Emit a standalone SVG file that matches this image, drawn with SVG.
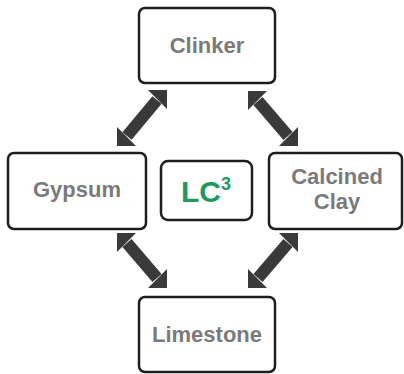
<svg xmlns="http://www.w3.org/2000/svg" width="404" height="374" viewBox="0 0 404 374">
<style>
.box{fill:#fff;stroke:#1e1e1e;stroke-width:2.5}
.lbl{font-family:"Liberation Sans",Arial,sans-serif;font-weight:bold;font-size:22px;fill:#7a7a7a;text-anchor:middle}
.shaft{stroke:#3a3a3a;stroke-width:12;fill:none}
.head{fill:#3a3a3a}
</style>
<rect width="404" height="374" fill="#fff"/>
<g id="connectors">
  <!-- top-left -->
  <line class="shaft" x1="157" y1="100" x2="127" y2="136"/>
  <polygon class="head" points="167,90 148,90 167,109"/>
  <polygon class="head" points="117,146 136,146 117,127"/>
  <!-- top-right -->
  <line class="shaft" x1="258" y1="101" x2="288" y2="136"/>
  <polygon class="head" points="248,91 267,91 248,110"/>
  <polygon class="head" points="298,146 279,146 298,127"/>
  <!-- bottom-left -->
  <line class="shaft" x1="127" y1="243" x2="157" y2="278"/>
  <polygon class="head" points="117,233 136,233 117,252"/>
  <polygon class="head" points="167,288 148,288 167,269"/>
  <!-- bottom-right -->
  <line class="shaft" x1="288" y1="243" x2="258" y2="278"/>
  <polygon class="head" points="298,233 279,233 298,252"/>
  <polygon class="head" points="248,288 267,288 248,269"/>
</g>
<g id="clinker">
  <rect class="box" x="139" y="8" width="136" height="75" rx="6"/>
  <text class="lbl" x="207" y="53">Clinker</text>
</g>
<g id="gypsum">
  <rect class="box" x="8" y="153" width="138" height="76" rx="6"/>
  <text class="lbl" x="77" y="197">Gypsum</text>
</g>
<g id="calcined-clay">
  <rect class="box" x="269" y="153" width="133" height="76" rx="6"/>
  <text class="lbl" x="337" y="184">Calcined</text>
  <text class="lbl" x="337" y="209">Clay</text>
</g>
<g id="limestone">
  <rect class="box" x="139" y="297" width="136" height="75" rx="6"/>
  <text class="lbl" x="207" y="342">Limestone</text>
</g>
<g id="lc3">
  <rect class="box" x="161" y="161" width="91" height="59" rx="7"/>
  <text x="206" y="202" font-family="&quot;Liberation Sans&quot;,Arial,sans-serif" font-weight="bold" font-size="30" fill="#1f9a5c" text-anchor="middle">LC<tspan font-size="18" dy="-12">3</tspan></text>
</g>
</svg>
